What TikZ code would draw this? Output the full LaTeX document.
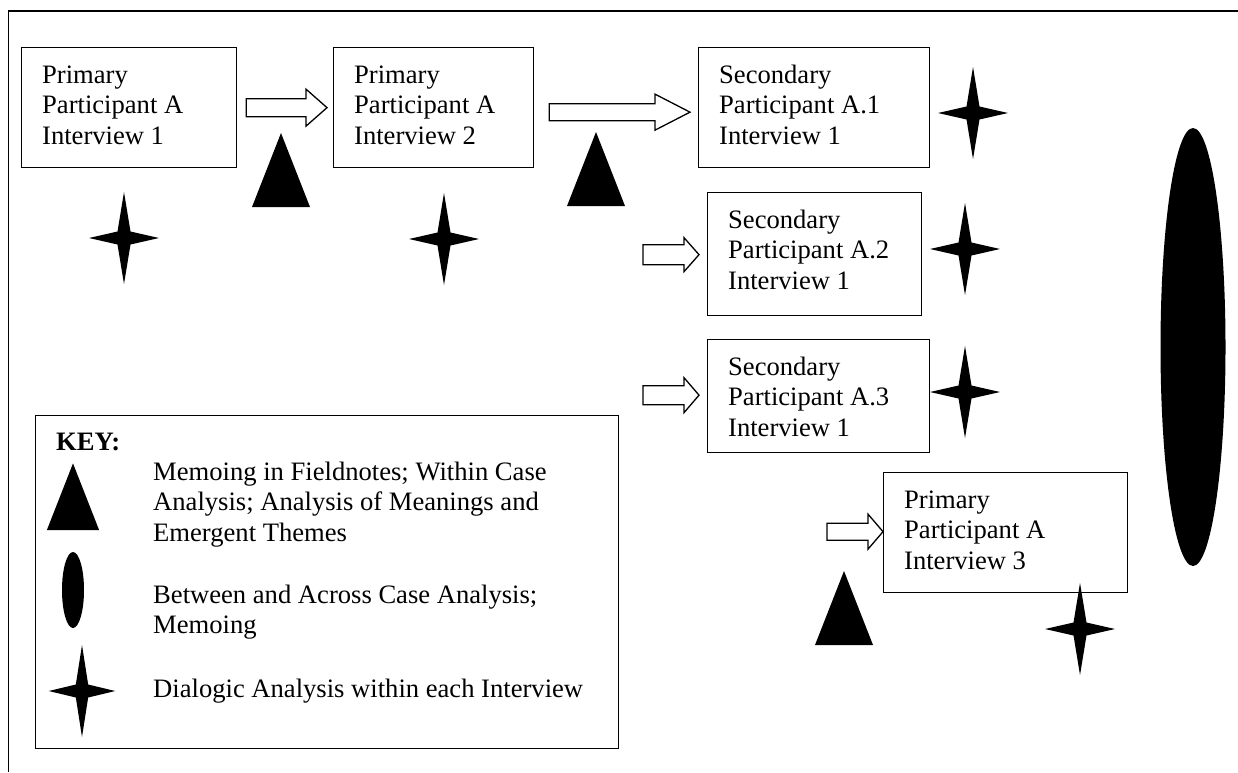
\documentclass[tikz,border=0pt]{standalone}
\usepackage{fontspec}
\setmainfont{Liberation Serif}
\usetikzlibrary{calc}

% text set in a fixed-size frame, first line 35.5pt below the top edge
\newcommand\stagetext[3]{\parbox[c][#2][t]{#1}{\vspace*{14pt}\raggedright\strut #3}}
% outlined block arrow: tail, tip, shaft half-width, head half-width, head length
\newcommand\blockarrow[5]{%
  \draw[arrowbody] let \p1=#1, \p2=#2 in
    (\x1,\y2+#3pt) -- (\x2-#5pt,\y2+#3pt) -- (\x2-#5pt,\y2+#4pt) -- (\x2,\y2)
    -- (\x2-#5pt,\y2-#4pt) -- (\x2-#5pt,\y2-#3pt) -- (\x1,\y2-#3pt) -- cycle;}

\tikzset{
  bodyfont/.style={font=\fontsize{26.6pt}{30.7pt}\selectfont},
  stagebox/.style={draw, line width=1.3pt, bodyfont, inner xsep=20.5pt,
    inner ysep=0pt, anchor=north west},
  keybox/.style={draw, line width=1.3pt, inner sep=0pt, anchor=north west},
  keytext/.style={bodyfont, inner sep=0pt, anchor=base west},
  arrowbody/.style={draw, fill=white, line width=1.3pt, line join=miter},
  frameline/.style={line width=1.5pt},
  wedge/.pic={\fill (-29,0) -- (0,-74) -- (29,0) -- cycle;},
  sparkle/.pic={\fill (0,-46) -- (6.5,-6.5) -- (35,0) -- (6.5,6.5) -- (0,46)
    -- (-6.5,6.5) -- (-35,0) -- (-6.5,-6.5) -- cycle;},
}

\begin{document}
\begin{tikzpicture}[x=1pt, y=-1pt]
\useasboundingbox (0,0) rectangle (1238,772);

% outer frame
\draw[frameline] (8.5,772) -- (8.5,11) -- (1238,11);

% interview stages
\node[stagebox] (b1) at (21,47)
  {\stagetext{174pt}{120pt}{Primary\\Participant A\\Interview 1}};
\node[stagebox] (b2) at (333,47)
  {\stagetext{159pt}{120pt}{Primary\\Participant A\\Interview 2}};
\node[stagebox] (b3) at (698,47)
  {\stagetext{190pt}{120pt}{Secondary\\Participant A.1\\Interview 1}};
\node[stagebox] (b4) at (707,192)
  {\stagetext{173pt}{123pt}{Secondary\\Participant A.2\\Interview 1}};
\node[stagebox] (b5) at (707,339)
  {\stagetext{181pt}{113pt}{Secondary\\Participant A.3\\Interview 1}};
\node[stagebox] (b6) at (883,472)
  {\stagetext{203pt}{120pt}{Primary\\Participant A\\Interview 3}};

% arrows between stages
\blockarrow{($(b1.east)+(9,0)$)}{($(b2.west)+(-6,0)$)}{9}{18.5}{21}
\blockarrow{($(b2.east)+(15,4)$)}{($(b3.west)+(-8,4.5)$)}{8.5}{18}{35}
\coordinate (t4) at (643,254);
\coordinate (t5) at (643,394);
\coordinate (t6) at (827,531);
\blockarrow{(t4)}{($(b4.west)+(-8,0.5)$)}{10}{17}{15}
\blockarrow{(t5)}{($(b5.west)+(-8,-1)$)}{9.5}{17.5}{15}
\blockarrow{(t6)}{($(b6.west)+(0,-1)$)}{8.5}{17.5}{15}

% within-case memoing
\pic at (281,207) {wedge};
\pic at (596,206) {wedge};
\pic at (844,645) {wedge};

% dialogic analysis markers
\pic at (124,238) {sparkle};
\pic at (444,239) {sparkle};
\pic at (973,113) {sparkle};
\pic at (965,249) {sparkle};
\pic at (965,392) {sparkle};
\pic at (1080,629) {sparkle};

% between and across case analysis
\fill (1193,347) ellipse [x radius=32.5, y radius=219];

% key
\node[keybox, minimum width=583pt, minimum height=333pt] (key) at (35,415) {};
\node[keytext] (keytitle) at (56,450) {\textbf{KEY:}};
\pic[scale=0.9] at (73,530) {wedge};
\fill (73,590) ellipse [x radius=11, y radius=38];
\pic[xscale=0.95] at (82,691) {sparkle};
\node[keytext] (k1) at (153,480)
  {\parbox[t]{450pt}{Memoing in Fieldnotes; Within Case\\Analysis; Analysis of Meanings and\\Emergent Themes}};
\node[keytext] (k2) at (153,603)
  {\parbox[t]{450pt}{Between and Across Case Analysis;\\Memoing}};
\node[keytext] (k3) at (153,697)
  {\parbox[t]{450pt}{Dialogic Analysis within each Interview}};
\end{tikzpicture}
\end{document}
